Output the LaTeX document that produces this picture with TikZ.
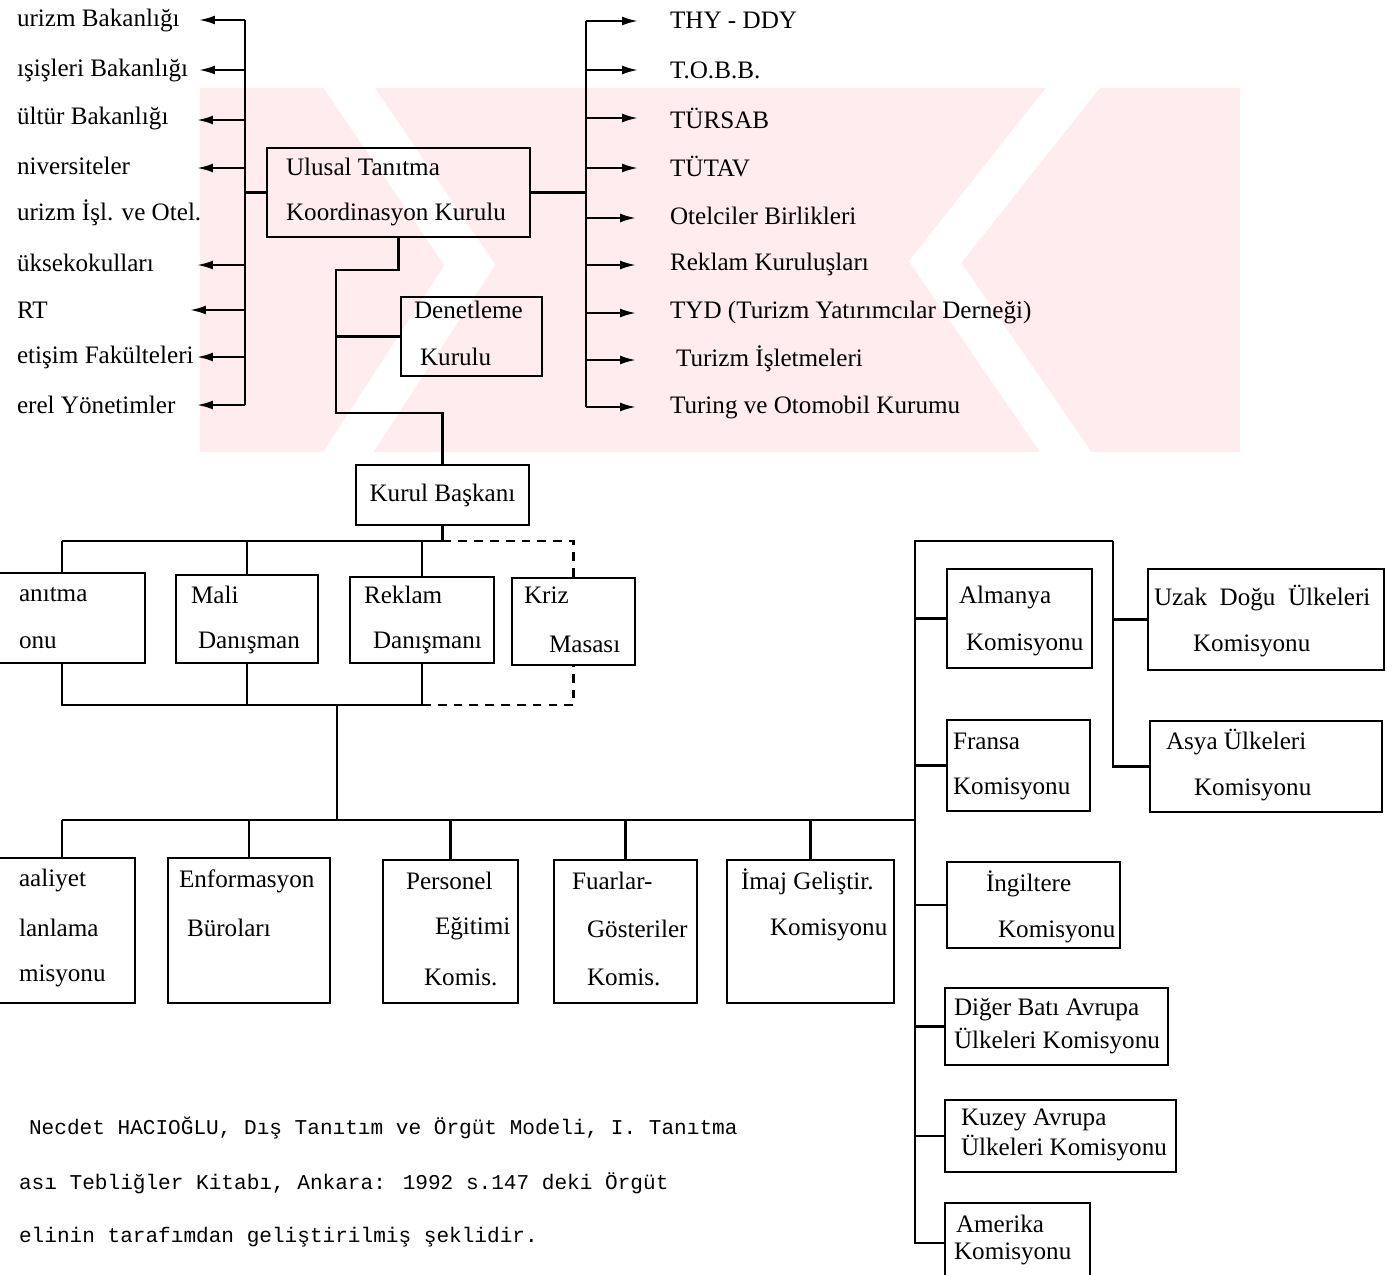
\documentclass[tikz,border=0pt]{standalone}
\usepackage{fontspec}
\setmainfont{Liberation Serif}
\newfontfamily\daktylo{Liberation Mono}
\usetikzlibrary{arrows.meta}
\definecolor{wasser}{RGB}{254,236,239}

\begin{document}
\begin{tikzpicture}[x=0.02cm, y=-0.02cm, line width=1.2pt,
  every node/.style={font=\fontsize{14.3}{18}\selectfont}]

        % Stile
        \tikzstyle{kasten}=[draw, line width=1.3pt, inner sep=0pt]
        \tikzstyle{txt}=[anchor=west, inner sep=0pt]
        \tikzstyle{fuss}=[anchor=west, inner sep=0pt, font=\daktylo\fontsize{12}{14}\selectfont]
        \tikzstyle{pfeil}=[-{Latex[length=9pt, width=5pt]}]

        \useasboundingbox (0,0) rectangle (1387,1275);
        \clip (0,0) rectangle (1387,1275);

        % Wasserzeichen
        \begin{scope}
          \clip (200,88) rectangle (1240,452);
          \fill[wasser] (200,88) rectangle (1240,452);
          \draw[white, line width=24pt] (330,60) -- (470,265) -- (330,480);
          \draw[white, line width=24pt] (1095,60) -- (935,262) -- (1085,480);
        \end{scope}

        % Koordinationsebene
        \node[kasten, minimum width=5.26cm, minimum height=1.78cm] (ulusal) at (398.5,192.5) {};
        \node[txt] (ulusal1) at (285,167) {Ulusal Tanıtma};
        \node[txt] (ulusal2) at (285,214) {Koordinasyon Kurulu};

        \node[kasten, minimum width=2.82cm, minimum height=1.58cm] (denet) at (471.5,336.5) {};
        \node[txt] (denet1) at (413,310) {Denetleme};
        \node[txt] (denet2) at (419,357) {Kurulu};

        \node[kasten, minimum width=3.46cm, minimum height=1.2cm] (kurul) at (442.5,495) {Kurul Başkanı};

        % Liste links
        \node[txt] (sol1) at (16,20) {urizm Bakanlığı};
        \node[txt] (sol2) at (16,70) {ışişleri Bakanlığı};
        \node[txt] (sol3) at (16,118) {ültür Bakanlığı};
        \node[txt] (sol4) at (16,166) {niversiteler};
        \node[txt] (sol5) at (16,213) {urizm İşl. ve Otel.};
        \node[txt] (sol6) at (16,263) {üksekokulları};
        \node[txt] (sol7) at (16,310) {RT};
        \node[txt] (sol8) at (16,357) {etişim Fakülteleri};
        \node[txt] (sol9) at (16,405) {erel Yönetimler};

        \coordinate (so) at (245,20);
        \coordinate (su) at (245,405);
        \coordinate (sp1) at (199,20);
        \coordinate (sp2) at (199,70);
        \coordinate (sp3) at (197,120);
        \coordinate (sp4) at (197,168);
        \coordinate (sp6) at (197,265);
        \coordinate (sp7) at (190,310);
        \coordinate (sp8) at (197,357);
        \coordinate (sp9) at (197,405);

        \draw (so) -- (su);
        \draw (ulusal.west) -- (ulusal.west -| so);
        \draw[pfeil] (so) -- (sp1);
        \draw[pfeil] (so |- sp2) -- (sp2);
        \draw[pfeil] (so |- sp3) -- (sp3);
        \draw[pfeil] (so |- sp4) -- (sp4);
        \draw[pfeil] (so |- sp6) -- (sp6);
        \draw[pfeil] (so |- sp7) -- (sp7);
        \draw[pfeil] (so |- sp8) -- (sp8);
        \draw[pfeil] (su) -- (sp9);

        % Liste rechts
        \node[txt] (sag1) at (669,20) {THY - DDY};
        \node[txt] (sag2) at (669,70) {T.O.B.B.};
        \node[txt] (sag3) at (669,118) {TÜRSAB};
        \node[txt] (sag4) at (669,167) {TÜTAV};
        \node[txt] (sag5) at (669,216) {Otelciler Birlikleri};
        \node[txt] (sag6) at (669,264) {Reklam Kuruluşları};
        \node[txt] (sag7) at (669,312) {TYD (Turizm Yatırımcılar Derneği)};
        \node[txt] (sag8) at (675,359) {Turizm İşletmeleri};
        \node[txt] (sag9) at (669,407) {Turing ve Otomobil Kurumu};

        \coordinate (ro) at (586,21);
        \coordinate (ru) at (586,407);
        \coordinate (rp1) at (638,21);
        \coordinate (rp2) at (638,70);
        \coordinate (rp3) at (638,118);
        \coordinate (rp4) at (638,168);
        \coordinate (rp5) at (636,218);
        \coordinate (rp6) at (636,265);
        \coordinate (rp7) at (636,313);
        \coordinate (rp8) at (636,360);
        \coordinate (rp9) at (636,407);

        \draw (ro) -- (ru);
        \draw (ulusal.east) -- (ulusal.east -| ro);
        \draw[pfeil] (ro) -- (rp1);
        \draw[pfeil] (ro |- rp2) -- (rp2);
        \draw[pfeil] (ro |- rp3) -- (rp3);
        \draw[pfeil] (ro |- rp4) -- (rp4);
        \draw[pfeil] (ro |- rp5) -- (rp5);
        \draw[pfeil] (ro |- rp6) -- (rp6);
        \draw[pfeil] (ro |- rp7) -- (rp7);
        \draw[pfeil] (ro |- rp8) -- (rp8);
        \draw[pfeil] (ru) -- (rp9);

        % Ulusal -> Denetleme -> Kurul
        \coordinate (k1) at (336,270);
        \coordinate (k2) at (336,413);
        \draw (ulusal.south) |- (k1) -- (k2) -| (kurul.north);
        \draw (k1 |- denet.west) -- (denet.west);

        % Stabsstellen
        \node[kasten, minimum width=4.5cm, minimum height=1.8cm] (tan) at (32.5,618) {};
        \node[txt] (tan1) at (18,595) {anıtma};
        \node[txt] (tan2) at (18,643) {onu};

        \node[kasten, minimum width=2.84cm, minimum height=1.76cm] (mali) at (247,619) {};
        \node[txt] (mali1) at (190,595) {Mali};
        \node[txt] (mali2) at (197,643) {Danışman};

        \node[kasten, minimum width=2.88cm, minimum height=1.72cm] (reklam) at (422,620) {};
        \node[txt] (reklam1) at (363,595) {Reklam};
        \node[txt] (reklam2) at (372,643) {Danışmanı};

        \node[kasten, minimum width=2.46cm, minimum height=1.74cm] (kriz) at (573.5,621.5) {};
        \node[txt] (kriz1) at (523,595) {Kriz};
        \node[txt] (kriz2) at (548,644) {Masası};

        \coordinate (b1) at (62,541);
        \coordinate (b2) at (62,705);
        \draw (kurul.south) |- (b1);
        \draw (b1) -- (b1 |- tan.north);
        \draw (mali.north) -- (mali.north |- b1);
        \draw (reklam.north) -- (reklam.north |- b1);
        \draw[dash pattern=on 5pt off 4pt] (kurul.south |- b1) -| (kriz.north);
        \draw (b1 |- tan.south) -- (b2) -- (b2 -| reklam.south) -- (reklam.south);
        \draw (mali.south) -- (mali.south |- b2);
        \draw[dash pattern=on 5pt off 4pt] (b2 -| reklam.south) -| (kriz.south);

        % Komisyonlar
        \node[kasten, minimum width=4.3cm, minimum height=2.9cm] (faal) at (27.5,930.5) {};
        \node[txt] (faal1) at (18,880) {aaliyet};
        \node[txt] (faal2) at (18,928) {lanlama};
        \node[txt] (faal3) at (18,976) {misyonu};

        \node[kasten, minimum width=3.24cm, minimum height=2.9cm] (enf) at (249,930.5) {};
        \node[txt] (enf1) at (178,881) {Enformasyon};
        \node[txt] (enf2) at (186,928) {Büroları};

        \node[kasten, minimum width=2.7cm, minimum height=2.86cm] (pers) at (450.5,931.5) {};
        \node[txt] (pers1) at (405,881) {Personel};
        \node[txt] (pers2) at (434,929) {Eğitimi};
        \node[txt] (pers3) at (423,977) {Komis.};

        \node[kasten, minimum width=2.86cm, minimum height=2.86cm] (fuar) at (625.5,931.5) {};
        \node[txt] (fuar1) at (571,881) {Fuarlar-};
        \node[txt] (fuar2) at (586,929) {Gösteriler};
        \node[txt] (fuar3) at (586,977) {Komis.};

        \node[kasten, minimum width=3.34cm, minimum height=2.86cm] (imaj) at (810.5,931.5) {};
        \node[txt] (imaj1) at (740,882) {İmaj Geliştir.};
        \node[txt] (imaj2) at (769,930) {Komisyonu};

        \coordinate (m1) at (337,705);
        \coordinate (b3) at (62,820);
        \coordinate (r1) at (915,541);
        \coordinate (r2) at (1113,541);
        \draw (m1) -- (m1 |- b3);
        \draw (b3) -- (b3 -| r1);
        \draw (b3) -- (b3 |- faal.north);
        \draw (b3 -| enf.north) -- (enf.north);
        \draw (b3 -| pers.north) -- (pers.north);
        \draw (b3 -| fuar.north) -- (fuar.north);
        \draw (b3 -| imaj.north) -- (imaj.north);

        % Laenderkommissionen
        \node[kasten, minimum width=2.9cm, minimum height=1.98cm] (alm) at (1019.5,618.5) {};
        \node[txt] (alm1) at (958,597) {Almanya};
        \node[txt] (alm2) at (965,645) {Komisyonu};

        \node[kasten, minimum width=4.72cm, minimum height=2.02cm] (uzak) at (1266,619.5) {};
        \node[txt] (uzak1) at (1153,598) {Uzak\ \ Doğu\ \ Ülkeleri};
        \node[txt] (uzak2) at (1192,646) {Komisyonu};

        \node[kasten, minimum width=2.86cm, minimum height=1.82cm] (fra) at (1018.5,765.5) {};
        \node[txt] (fra1) at (952,741) {Fransa};
        \node[txt] (fra2) at (952,789) {Komisyonu};

        \node[kasten, minimum width=4.64cm, minimum height=1.82cm] (asya) at (1266,766.5) {};
        \node[txt] (asya1) at (1165,742) {Asya Ülkeleri};
        \node[txt] (asya2) at (1193,790) {Komisyonu};

        \node[kasten, minimum width=3.46cm, minimum height=1.72cm] (ing) at (1033.5,905) {};
        \node[txt] (ing1) at (985,884) {İngiltere};
        \node[txt] (ing2) at (997,932) {Komisyonu};

        \node[kasten, minimum width=4.46cm, minimum height=1.54cm] (diger) at (1056.5,1026.5) {};
        \node[txt] (diger1) at (953,1010) {Diğer Batı Avrupa};
        \node[txt] (diger2) at (953,1041) {Ülkeleri Komisyonu};

        \node[kasten, minimum width=4.62cm, minimum height=1.44cm] (kuzey) at (1060.5,1136) {};
        \node[txt] (kuzey1) at (960,1120) {Kuzey Avrupa};
        \node[txt] (kuzey2) at (960,1148) {Ülkeleri Komisyonu};

        \node[kasten, minimum width=2.9cm, minimum height=1.6cm] (amer) at (1017.5,1243) {};
        \node[txt] (amer1) at (955,1224) {Amerika};
        \node[txt] (amer2) at (953,1254) {Komisyonu};

        \draw (r2) -- (r1) |- (amer.west);
        \draw (r2) |- (asya.west);
        \draw (uzak.west) -- (uzak.west -| r2);
        \draw (alm.west) -- (alm.west -| r1);
        \draw (fra.west) -- (fra.west -| r1);
        \draw (ing.west) -- (ing.west -| r1);
        \draw (diger.west) -- (diger.west -| r1);
        \draw (kuzey.west) -- (kuzey.west -| r1);

        % Quelle
        \node[fuss] (quelle1) at (28,1128) {Necdet HACIOĞLU, Dış Tanıtım ve Örgüt Modeli, I. Tanıtma};
        \node[fuss] (quelle2) at (18,1183) {ası Tebliğler Kitabı, Ankara: 1992 s.147 deki Örgüt};
        \node[fuss] (quelle3) at (18,1237) {elinin tarafımdan geliştirilmiş şeklidir.};
\end{tikzpicture}
\end{document}
